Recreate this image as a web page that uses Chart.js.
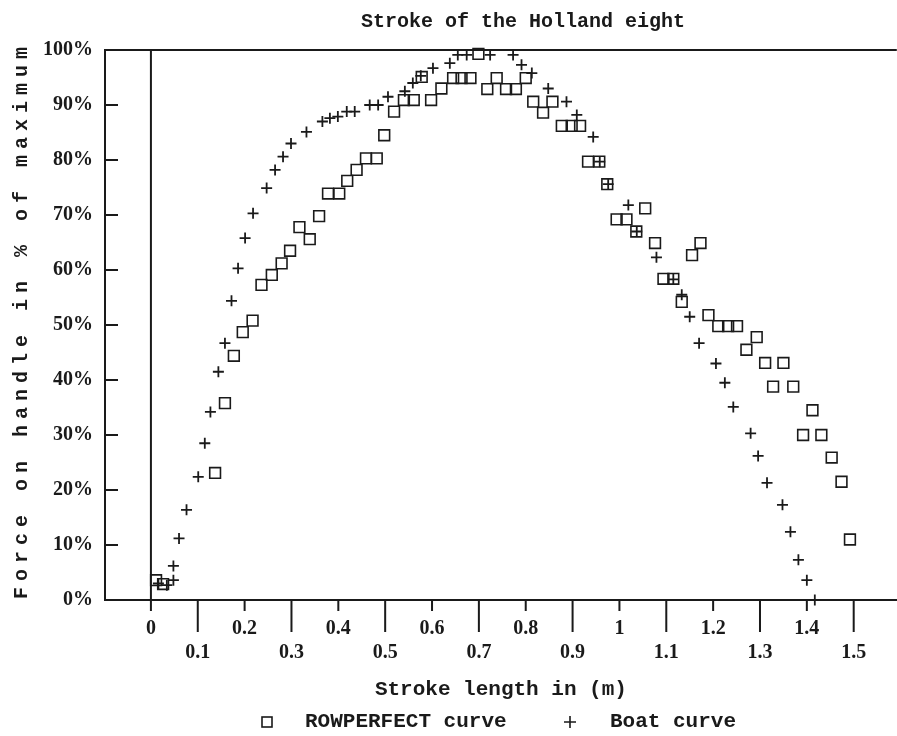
<!DOCTYPE html>
<html lang="en">
<head>
<meta charset="UTF-8">
<title>Stroke of the Holland eight</title>
<style>
  html, body { margin: 0; padding: 0; background: #fff; overflow: hidden; }
  /* a little wider than the window: chart.js keeps ~9px for the markers on the right,
     the scanned frame runs right off the page */
  #wrap { width: 906px; height: 736px; }
</style>
</head>
<body>
<div id="wrap"><canvas id="stroke-chart"></canvas></div>
<script src="https://cdn.jsdelivr.net/npm/chart.js"></script>
<script>
// stroke length (m) and force (% of max)
const rowperfectX = [0.011, 0.026, 0.137, 0.158, 0.177, 0.196, 0.217, 0.236, 0.258, 0.279, 0.297, 0.317,
  0.339, 0.359, 0.378, 0.402, 0.419, 0.439, 0.459, 0.482, 0.498, 0.519, 0.540, 0.561, 0.578, 0.598,
  0.620, 0.645, 0.663, 0.682, 0.699, 0.718, 0.738, 0.758, 0.779, 0.800, 0.816, 0.837, 0.857, 0.877,
  0.898, 0.916, 0.933, 0.957, 0.974, 0.994, 1.015, 1.036, 1.055, 1.076, 1.094, 1.115, 1.133, 1.155,
  1.173, 1.190, 1.211, 1.232, 1.251, 1.271, 1.293, 1.311, 1.328, 1.350, 1.371, 1.392, 1.412, 1.431,
  1.453, 1.474, 1.492];
const rowperfectY = [3.6, 2.9, 23.1, 35.8, 44.4, 48.7, 50.8, 57.3, 59.1, 61.2, 63.5, 67.8,
  65.6, 69.8, 73.9, 73.9, 76.2, 78.2, 80.3, 80.3, 84.5, 88.8, 90.9, 90.9, 95.1, 90.9,
  93.0, 94.9, 94.9, 94.9, 99.3, 92.9, 94.9, 92.9, 92.9, 94.9, 90.6, 88.6, 90.6, 86.2,
  86.2, 86.2, 79.7, 79.7, 75.6, 69.2, 69.2, 67.0, 71.2, 64.9, 58.4, 58.4, 54.2, 62.7,
  64.9, 51.8, 49.8, 49.8, 49.8, 45.5, 47.8, 43.1, 38.8, 43.1, 38.8, 30.0, 34.5, 30.0,
  25.9, 21.5, 11.0];

const boatX = [0.016, 0.034, 0.048, 0.048, 0.060, 0.076, 0.101, 0.115, 0.127, 0.144, 0.158, 0.172,
  0.186, 0.201, 0.218, 0.247, 0.265, 0.282, 0.299, 0.332, 0.366, 0.382, 0.399, 0.418, 0.435, 0.467,
  0.485, 0.506, 0.542, 0.559, 0.576, 0.602, 0.638, 0.655, 0.674, 0.724, 0.773, 0.791, 0.813, 0.848,
  0.887, 0.909, 0.944, 0.958, 0.976, 1.019, 1.037, 1.079, 1.115, 1.133, 1.150, 1.170, 1.206, 1.225,
  1.243, 1.280, 1.296, 1.315, 1.348, 1.365, 1.382, 1.400, 1.417];
const boatY = [3.0, 2.7, 3.6, 6.2, 11.2, 16.4, 22.4, 28.5, 34.2, 41.5, 46.7, 54.4,
  60.3, 65.8, 70.3, 74.9, 78.2, 80.6, 83.0, 85.1, 87.0, 87.6, 87.9, 88.8, 88.8, 90.0,
  90.0, 91.5, 92.5, 94.0, 95.3, 96.7, 97.6, 99.1, 99.1, 99.1, 99.1, 97.3, 95.8, 93.0,
  90.6, 88.2, 84.2, 79.7, 75.6, 71.8, 67.0, 62.3, 58.3, 55.5, 51.5, 46.7, 43.0, 39.5,
  35.1, 30.3, 26.2, 21.3, 17.3, 12.4, 7.3, 3.6, 0.0];

const xTicks = [0, 0.1, 0.2, 0.3, 0.4, 0.5, 0.6, 0.7, 0.8, 0.9, 1, 1.1, 1.2, 1.3, 1.4, 1.5];
const xTickLabels = ['0', '0.1', '0.2', '0.3', '0.4', '0.5', '0.6', '0.7', '0.8', '0.9',
  '1', '1.1', '1.2', '1.3', '1.4', '1.5'];
const yTicks = [0, 10, 20, 30, 40, 50, 60, 70, 80, 90, 100];

const INK = '#1a1a1a';
const MONO = "'Liberation Mono', 'DejaVu Sans Mono', monospace";
const SERIF = "'Liberation Serif', 'DejaVu Serif', serif";

// frame, zero line, tick marks, titles and legend
const paperPlugin = {
  id: 'paper',
  beforeDatasetsDraw(chart) {
    const {ctx, chartArea: a, scales: {x, y}} = chart;
    ctx.save();
    ctx.strokeStyle = INK;
    ctx.lineWidth = 2;
    ctx.beginPath();
    ctx.moveTo(a.left, a.top);
    ctx.lineTo(a.right, a.top);
    const x0 = x.getPixelForValue(0);
    ctx.moveTo(x0, a.top);
    ctx.lineTo(x0, a.bottom);
    yTicks.forEach(v => {
      const py = y.getPixelForValue(v);
      ctx.moveTo(a.left, py);
      ctx.lineTo(a.left + 13, py);
    });
    xTicks.forEach((v, i) => {
      const px = x.getPixelForValue(v);
      ctx.moveTo(px, a.bottom);
      ctx.lineTo(px, a.bottom + (i % 2 ? 32 : 11));
    });
    ctx.stroke();
    ctx.restore();
  },
  afterDraw(chart) {
    const {ctx, chartArea: a} = chart;
    ctx.save();
    ctx.fillStyle = INK;
    ctx.textBaseline = 'middle';

    ctx.font = 'bold 20px ' + MONO;
    ctx.textAlign = 'center';
    ctx.fillText('Stroke of the Holland eight', 523, 22);

    // y title, spaced out like the typewriter original
    ctx.save();
    ctx.translate(22, (a.top + a.bottom) / 2 - 5);
    ctx.rotate(-Math.PI / 2);
    ctx.letterSpacing = '6px';
    ctx.fillText('Force on handle in % of maximum', 0, 0);
    ctx.restore();

    // legend
    const ds = chart.data.datasets;
    ctx.font = 'bold 21px ' + MONO;
    ctx.textAlign = 'left';
    ctx.strokeStyle = INK;
    ctx.lineWidth = 1.6;
    ctx.strokeRect(262, 717, 10, 10);
    ctx.fillText(ds[0].label, 305, 722);
    ctx.beginPath();
    ctx.moveTo(564, 722); ctx.lineTo(576, 722);
    ctx.moveTo(570, 716); ctx.lineTo(570, 728);
    ctx.stroke();
    ctx.fillText(ds[1].label, 610, 722);
    ctx.restore();
  }
};

const pts = (xs, ys) => xs.map((v, i) => ({x: v, y: ys[i]}));

new Chart(document.getElementById('stroke-chart'), {
  type: 'scatter',
  data: {
    datasets: [
      {
        label: 'ROWPERFECT curve',
        data: pts(rowperfectX, rowperfectY),
        pointStyle: 'rect',
        pointRadius: 7.6,
        pointBorderWidth: 1.6,
        borderColor: INK,
        backgroundColor: 'rgba(0,0,0,0)',
        clip: false
      },
      {
        label: 'Boat curve',
        data: pts(boatX, boatY),
        pointStyle: 'cross',
        pointRadius: 5.5,
        pointBorderWidth: 1.8,
        borderColor: INK,
        backgroundColor: INK,
        clip: false
      }
    ]
  },
  options: {
    responsive: true,
    maintainAspectRatio: false,
    animation: false,
    layout: { padding: { top: 50, left: 0, right: 0, bottom: 34 } },
    plugins: {
      legend: { display: false },
      title: { display: false },
      tooltip: { enabled: false }
    },
    scales: {
      x: {
        type: 'linear',
        min: -0.098,
        max: 1.592,
        afterBuildTicks: s => { s.ticks = xTicks.map(v => ({value: v})); },
        afterFit: s => { s.height = 102; s.paddingLeft = 0; s.paddingRight = 0; },
        grid: { display: false, drawTicks: false },
        border: { display: true, color: INK, width: 2 },
        ticks: {
          autoSkip: false,
          maxRotation: 0,
          padding: 17,
          color: INK,
          font: { family: SERIF, size: 20, weight: 'bold' },
          callback: (v, i) => i % 2 ? ['', xTickLabels[i]] : xTickLabels[i]
        },
        title: {
          display: true,
          text: 'Stroke length in (m)',
          color: INK,
          padding: { top: 0, bottom: 0 },
          font: { family: MONO, size: 21, weight: 'bold' }
        }
      },
      y: {
        min: 0,
        max: 100,
        afterBuildTicks: s => { s.ticks = yTicks.map(v => ({value: v})); },
        afterFit: s => { s.width = 105; },
        grid: { display: false, drawTicks: false },
        border: { display: true, color: INK, width: 2 },
        ticks: {
          padding: 12,
          color: INK,
          font: { family: SERIF, size: 20, weight: 'bold' },
          callback: v => v + '%'
        }
      }
    }
  },
  plugins: [paperPlugin]
});
</script>
</body>
</html>
